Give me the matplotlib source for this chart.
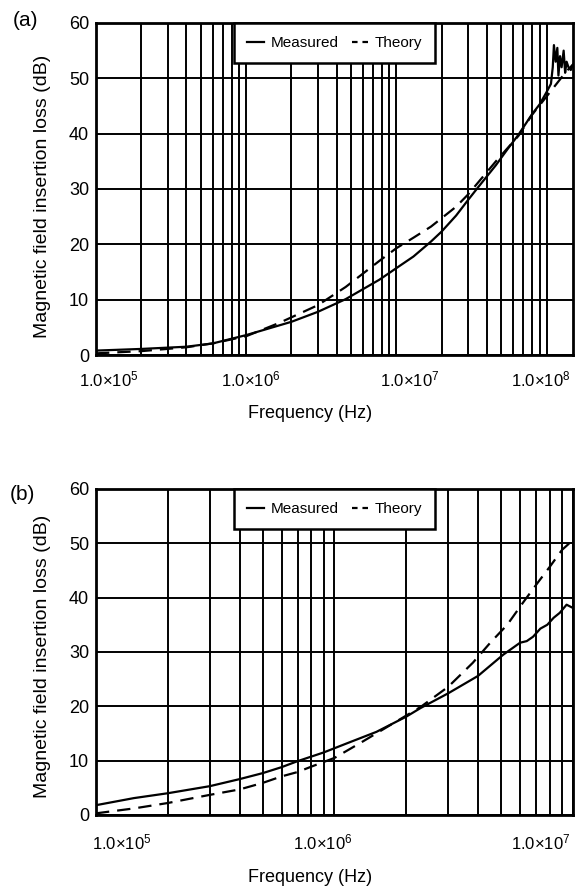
import numpy as np
import matplotlib
matplotlib.use("Agg")
import matplotlib.pyplot as plt
from matplotlib.lines import Line2D
from matplotlib.ticker import LogLocator, NullFormatter

plt.rcParams['font.family'] = ['Liberation Sans', 'DejaVu Sans']
plt.rcParams['mathtext.fontset'] = 'custom'
plt.rcParams['mathtext.rm'] = 'Liberation Sans'
plt.rcParams['mathtext.it'] = 'Liberation Sans:italic'
plt.rcParams['mathtext.bf'] = 'Liberation Sans:bold'

# panel (a): insertion loss up to 150 MHz
freq_a_meas = [1e5, 2e5, 4e5, 6e5, 1e6, 2e6, 3e6, 4.6e6, 7.7e6, 1e7, 1.3e7, 1.7e7,
               2e7, 2.5e7, 3e7, 3.5e7, 4.6e7, 5.5e7, 6.5e7, 8e7, 9e7, 1e8, 1.07e8,
               1.1e8, 1.12e8, 1.15e8, 1.18e8, 1.2e8, 1.23e8, 1.26e8, 1.3e8, 1.33e8,
               1.36e8, 1.4e8, 1.45e8, 1.5e8]
loss_a_meas = [0.8, 1.1, 1.5, 2.1, 3.6, 6.0, 7.8, 10.1, 13.6, 15.7, 17.8, 20.5,
               22.3, 25.2, 28.0, 30.3, 34.3, 37.2, 39.8, 43.5, 45.3, 47.5, 49.0,
               52.0, 56.0, 53.0, 55.5, 50.5, 54.0, 52.0, 55.0, 51.0,
               53.0, 52.0, 51.5, 52.5]
freq_a_theo = [1e5, 2e5, 4e5, 6e5, 1e6, 1.66e6, 3e6, 4.6e6, 7.7e6, 1e7, 1.3e7,
               1.7e7, 2.5e7, 3e7, 4.6e7, 6.5e7, 8e7, 1e8, 1.35e8, 1.5e8]
loss_a_theo = [0.3, 0.7, 1.4, 2.1, 3.4, 5.8, 9.0, 12.3, 17.0, 19.3, 21.2,
               23.2, 26.8, 29.0, 35.0, 39.6, 43.4, 46.7, 51.2, 52.5]

# panel (b): insertion loss up to 10 MHz
freq_b_meas = [1e5, 1.44e5, 2e5, 3e5, 4e5, 5e5, 6e5, 7e5, 9e5, 1.13e6, 1.5e6, 2e6,
               2.3e6, 3e6, 4e6, 5.1e6, 6e6, 6.4e6, 6.8e6, 7.3e6, 7.8e6, 8.3e6,
               8.8e6, 9.4e6, 1e7]
loss_b_meas = [1.8, 3.1, 4.0, 5.3, 6.6, 7.7, 8.8, 9.9, 11.5, 13.2, 15.3, 18.1,
               19.7, 22.4, 25.6, 29.5, 31.7, 32.0, 32.8, 34.3, 35.0, 36.3,
               37.2, 38.7, 38.1]
freq_b_theo = [1e5, 1.44e5, 2e5, 3e5, 4e5, 5e5, 6e5, 7e5, 8e5, 1e6, 1.3e6, 2e6,
               2.3e6, 3e6, 3.8e6, 4.5e6, 5.3e6, 6.2e6, 7.1e6, 8e6, 9e6, 1e7]
loss_b_theo = [0.3, 1.2, 2.2, 3.7, 4.7, 5.9, 7.1, 7.9, 8.9, 10.5, 13.4, 18.3,
               19.9, 23.6, 28.0, 31.7, 35.0, 39.2, 42.7, 45.7, 48.8, 50.6]

y_ticks = [0, 10, 20, 30, 40, 50, 60]
xt_a = [1e5, 1e6, 1e7, 1e8]
xt_b = [1e5, 1e6, 1e7]
xt_a_labels = [r'1.0$\times$10$^{5}$', r'1.0$\times$10$^{6}$',
               r'1.0$\times$10$^{7}$', r'1.0$\times$10$^{8}$']
xt_b_labels = xt_a_labels[:3]
# horizontal nudges of the tick labels, pixels
xt_a_shift = [13, 5, 13, -6]
xt_b_shift = [26, -12, -32]

LW = 1.6
DASH = (6, 3.6)


def setup(ax, xlim, xticks, xlabels, shifts, label_pad, ylab_y, xlab_y):
    ax.set_xscale('log')
    ax.set_xlim(*xlim)
    ax.set_ylim(0, 60)
    ax.xaxis.set_major_locator(LogLocator(base=10))
    ax.xaxis.set_minor_locator(LogLocator(base=10, subs=np.arange(2, 10)))
    ax.xaxis.set_major_formatter(NullFormatter())
    ax.xaxis.set_minor_formatter(NullFormatter())
    ax.set_yticks(y_ticks)
    ax.tick_params(axis='both', which='both', length=0)
    ax.tick_params(axis='y', labelsize=13, pad=5)
    ax.grid(True, which='both', axis='x', color='black', lw=1.4)
    ax.grid(True, which='major', axis='y', color='black', lw=1.4)
    for s in ax.spines.values():
        s.set_linewidth(2)
    for f, lab, dx in zip(xticks, xlabels, shifts):
        ax.annotate(lab, xy=(f, 0), xycoords=('data', 'axes fraction'),
                    xytext=(dx, -label_pad), textcoords='offset pixels',
                    ha='center', va='top', fontsize=12)
    ax.set_ylabel('Magnetic field insertion loss (dB)', fontsize=14)
    ax.yaxis.set_label_coords(-0.094, ylab_y)
    ax.text(0.449, xlab_y, 'Frequency (Hz)', transform=ax.transAxes,
            ha='center', va='center', fontsize=13)
    handles = [Line2D([], [], color='black', lw=LW),
               Line2D([], [], color='black', lw=LW, dashes=(2.5, 2.2))]
    leg = ax.legend(handles, ['Measured', 'Theory'], loc='upper center',
                    bbox_to_anchor=(0.501, 1.0), ncol=2, frameon=True,
                    fancybox=False, edgecolor='black', framealpha=1,
                    borderaxespad=0, handlelength=1.1, columnspacing=0.9,
                    handletextpad=0.4, borderpad=0.85, fontsize=11)
    leg.get_frame().set_linewidth(1.8)


fig = plt.figure(figsize=(5.81, 8.90), dpi=100)

ax1 = fig.add_axes([0.1652, 0.6011, 0.821, 0.3731])
ax1.plot(freq_a_meas, loss_a_meas, color='black', lw=LW)
ax1.plot(freq_a_theo, loss_a_theo, color='black', lw=LW, dashes=DASH)
setup(ax1, (1e5, 1.5e8), xt_a, xt_a_labels, xt_a_shift, 14, 0.479, -0.175)

ax2 = fig.add_axes([0.1652, 0.0843, 0.821, 0.3663])
ax2.plot(freq_b_meas, loss_b_meas, color='black', lw=LW)
ax2.plot(freq_b_theo, loss_b_theo, color='black', lw=LW, dashes=DASH)
setup(ax2, (1e5, 1e7), xt_b, xt_b_labels, xt_b_shift, 18, 0.485, -0.193)

fig.text(25 / 581, 1 - 21 / 890, '(a)', ha='center', va='center', fontsize=15)
fig.text(22 / 581, 1 - 495 / 890, '(b)', ha='center', va='center', fontsize=15)

fig.savefig('out.png', dpi=100)
